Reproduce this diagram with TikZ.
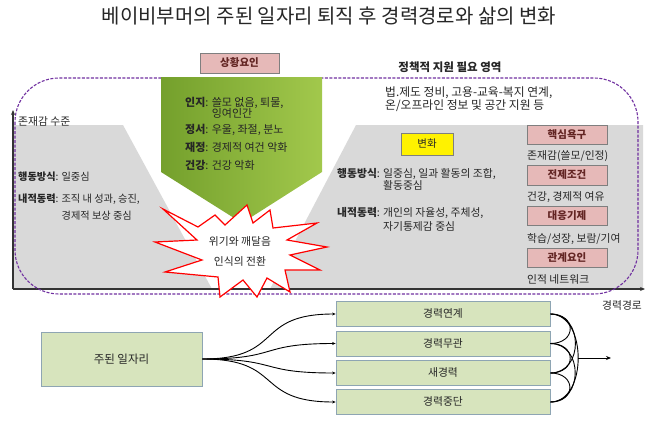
\documentclass[tikz,border=0pt]{standalone}
\usepackage{fontspec}
\setmainfont{Noto Sans CJK KR}
\usetikzlibrary{arrows.meta}
\definecolor{grayarea}{HTML}{D9D9D9}
\definecolor{dashpurple}{HTML}{7030A0}
\definecolor{gdark}{HTML}{74A02C}
\definecolor{glight}{HTML}{A2C84C}
\definecolor{pinkfill}{HTML}{E6B9B8}
\definecolor{boxborder}{HTML}{7F7F7F}
\definecolor{darkred}{HTML}{632523}
\definecolor{paleg}{HTML}{D7E4BD}
\definecolor{bborder}{HTML}{8EA5B3}
\definecolor{txt}{HTML}{262626}
\begin{document}
\begin{tikzpicture}[x=1pt,y=-1pt,
  txtn/.style={inner sep=0pt, text height=0.8em, text depth=0.05em, text=txt, font=\fontsize{10.8}{12}\selectfont},
  lt/.style={txtn, anchor=west},
  ltl/.style={lt, font=\fontsize{10.2}{12}\selectfont},
  ltg/.style={lt, font=\fontsize{11}{12}\selectfont},
  ltp/.style={lt, font=\fontsize{11.8}{13}\selectfont},
  pinkbox/.style={draw=boxborder, fill=pinkfill, line width=0.8pt, text=darkred, font=\fontsize{10.5}{12}\selectfont\bfseries, inner sep=0pt, text height=0.8em, text depth=0.05em},
  careerbox/.style={draw=bborder, fill=paleg, line width=0.8pt, text=txt, font=\fontsize{10.8}{12}\selectfont, inner sep=0pt, minimum width=214pt, minimum height=25pt, text height=0.8em, text depth=0.05em},
  conn/.style={line width=0.9pt, draw=black},
  axisline/.style={line width=1.5pt, draw=black!80, -{Stealth[length=5pt,width=4pt]}},
]
\useasboundingbox (0,0) rectangle (658,428);
% title
\node[txtn, font=\fontsize{20}{22}\selectfont] (title) at (329,20) {베이비부머의 주된 일자리 퇴직 후 경력경로와 삶의 변화};
% gray areas
\fill[grayarea] (13,125) -- (123,125) -- (212,289) -- (13,289) -- cycle;
\fill[grayarea] (356,125) -- (643,125) -- (643,289) -- (270,289) -- cycle;
% axes
\coordinate (O) at (13,289);
\coordinate (Ytop) at (13,110);
\coordinate (Xend) at (645,289);
\draw[axisline] (O) -- (Ytop);
\draw[axisline] (O) -- (Xend);
\node[lt] (ylab) at (18,122) {존재감 수준};
\node[txtn] (xlab) at (622,306) {경력경로};
% dashed region
\draw[dashpurple, line width=1.1pt, dash pattern=on 3pt off 1.5pt, rounded corners=44pt] (15,78) rectangle (638,294);
% green pentagon
\shade[left color=gdark, right color=glight] (161,77) -- (322,77) -- (322,172) -- (242,223) -- (161,172) -- cycle;
\node[pinkbox, minimum width=79pt, minimum height=20pt] (situ) at (239.5,63) {상황요인};
\node[ltg] (g1) at (185,102.5) {\textbf{인지}: 쓸모 없음, 퇴물,};
\node[ltg] (g2) at (185,113.5) {\phantom{\textbf{인지}: }잉여인간};
\node[ltg] (g3) at (185,129.5) {\textbf{정서}: 우울, 좌절, 분노};
\node[ltg] (g4) at (185,148) {\textbf{재정}: 경제적 여건 악화};
\node[ltg] (g5) at (185,166) {\textbf{건강}: 건강 악화};
% left texts
\node[ltl] (l1) at (18,176.5) {\textbf{행동방식}: 일중심};
\node[ltl] (l2) at (18,198.5) {\textbf{내적동력}: 조직 내 성과, 승진,};
\node[ltl] (l3) at (18,215.5) {\phantom{\textbf{내적동력}: }경제적 보상 중심};
% policy texts
\node[txtn, font=\fontsize{11.5}{13}\selectfont\bfseries] (policy) at (450,68) {정책적 지원 필요 영역};
\node[ltp] (p1) at (385,93) {법.제도 정비, 고용-교육-복지 연계,};
\node[ltp] (p2) at (385,106) {온/오프라인 정보 및 공간 지원 등};
% change
\node[draw=boxborder, fill=yellow, line width=0.8pt, inner sep=0pt, minimum width=52pt, minimum height=22pt, text=txt, font=\fontsize{10.5}{12}\selectfont, text height=0.8em, text depth=0.05em] (chg) at (427,144) {변화};
\node[lt] (r1) at (337,174) {\textbf{행동방식}: 일중심, 일과 활동의 조합,};
\node[lt] (r2) at (337,186) {\phantom{\textbf{행동방식}: }활동중심};
\node[lt] (r3) at (337,213) {\textbf{내적동력}: 개인의 자율성, 주체성,};
\node[lt] (r4) at (337,227) {\phantom{\textbf{내적동력}: }자기통제감 중심};
% right column
\node[pinkbox, minimum width=80pt, minimum height=19pt] (k1) at (567,134.5) {핵심욕구};
\node[lt] (k1t) at (527,156) {존재감(쓸모/인정)};
\node[pinkbox, minimum width=80pt, minimum height=20pt] (k2) at (567,175) {전제조건};
\node[lt] (k2t) at (527,197) {건강, 경제적 여유};
\node[pinkbox, minimum width=80pt, minimum height=19pt] (k3) at (567,216) {대응기제};
\node[lt] (k3t) at (527,239) {학습/성장, 보람/기여};
\node[pinkbox, minimum width=80pt, minimum height=19pt] (k4) at (567,257.5) {관계요인};
\node[lt] (k4t) at (527,280) {인적 네트워크};
% starburst
\draw[red, line width=1.2pt, fill=white, line join=miter]
 (163,209) -- (198,227) -- (215,215) -- (225,225) -- (247,205) -- (253,223) -- (270,210) -- (273,228)
 -- (317,223) -- (287,240) -- (327,247) -- (290,255) -- (320,270) -- (285,270) -- (290,292)
 -- (267,278) -- (257,297) -- (243,280) -- (220,297) -- (218,277) -- (165,272) -- (202,260)
 -- (155,242) -- (197,240) -- cycle;
\node[txtn] (s1) at (240,242) {위기와 깨달음};
\node[txtn] (s2) at (240,262) {인식의 전환};
% bottom
\node[draw=bborder, fill=paleg, line width=0.8pt, inner sep=0pt, minimum width=161pt, minimum height=54pt, text=txt, font=\fontsize{11.5}{13}\selectfont] (main) at (121.5,359) {주된 일자리};
\node[careerbox] (b1) at (443,314) {경력연계};
\node[careerbox] (b2) at (443,343.5) {경력무관};
\node[careerbox] (b3) at (443,373) {새경력};
\node[careerbox] (b4) at (443,402) {경력중단};
\foreach \b in {b1,b2,b3,b4}
  \draw[conn, -{Stealth[length=3.5pt,width=3pt]}] (main.east) to[out=0,in=180,looseness=1.5] (\b.west);
\draw[conn] (b1.east) to[out=0,in=0,looseness=1.08] (b4.east);
\draw[conn] (b1.east) to[out=0,in=0,looseness=1.45] (b3.east);
\draw[conn] (b2.east) to[out=0,in=0,looseness=1.45] (b4.east);
\draw[conn] (b1.east) to[out=0,in=0,looseness=2.3] (b2.east);
\draw[conn] (b2.east) to[out=0,in=0,looseness=2.3] (b3.east);
\draw[conn] (b3.east) to[out=0,in=0,looseness=2.3] (b4.east);
\coordinate (M) at (578,358);
\coordinate (E) at (611,358);
\draw[conn, -{Stealth[length=5pt,width=4pt]}] (M) -- (E);
\end{tikzpicture}
\end{document}
